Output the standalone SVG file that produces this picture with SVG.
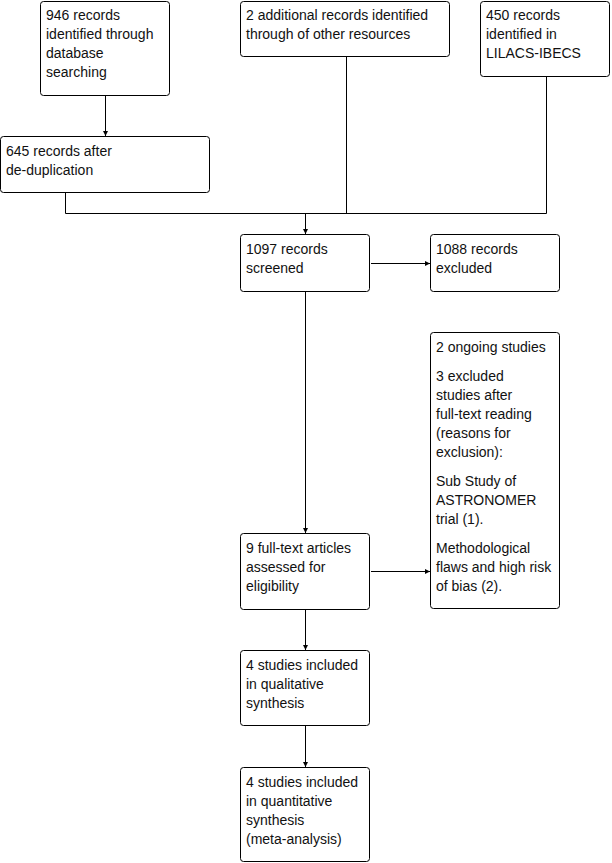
<svg xmlns="http://www.w3.org/2000/svg" width="612" height="863" viewBox="0 0 612 863">
<style>
.box{fill:#fff;stroke:#000;stroke-width:1}
text{font-family:"Liberation Sans",Arial,sans-serif;font-size:14px;fill:#111}
.c{fill:none;stroke:#000;stroke-width:1}
</style>
<defs>
<marker id="ah" markerWidth="6" markerHeight="6" refX="5" refY="3" orient="auto" markerUnits="userSpaceOnUse">
<path d="M0,0.5 L5,3 L0,5.5 Z" fill="#000"/>
</marker>
</defs>
<rect width="612" height="863" fill="#fff"/>
<g id="connectors">
<path class="c" d="M105.5,96 V136" marker-end="url(#ah)"/>
<path class="c" d="M65.5,193 V213.5 H546.5 V76"/>
<path class="c" d="M346.5,57 V213.5"/>
<path class="c" d="M305.5,213.5 V234" marker-end="url(#ah)"/>
<path class="c" d="M371,263.5 H430" marker-end="url(#ah)"/>
<path class="c" d="M305.5,292 V533" marker-end="url(#ah)"/>
<path class="c" d="M371,571.5 H430" marker-end="url(#ah)"/>
<path class="c" d="M305.5,610 V650" marker-end="url(#ah)"/>
<path class="c" d="M305.5,726 V767" marker-end="url(#ah)"/>
</g>
<g id="n1"><rect class="box" x="40.5" y="1.5" width="129" height="94" rx="3"/>
<text x="46" y="20">946 records</text><text x="46" y="39">identified through</text><text x="46" y="58">database</text><text x="46" y="77">searching</text></g>
<g id="n2"><rect class="box" x="240.5" y="1.5" width="209" height="55" rx="3"/>
<text x="246" y="20">2 additional records identified</text><text x="246" y="39">through of other resources</text></g>
<g id="n3"><rect class="box" x="480.5" y="1.5" width="129" height="75" rx="3"/>
<text x="486" y="20">450 records</text><text x="486" y="39">identified in</text><text x="486" y="58">LILACS-IBECS</text></g>
<g id="n4"><rect class="box" x="0.5" y="136.5" width="209" height="56" rx="3"/>
<text x="6" y="156">645 records after</text><text x="6" y="175">de-duplication</text></g>
<g id="n5"><rect class="box" x="240.5" y="234.5" width="129" height="57" rx="3"/>
<text x="246" y="254">1097 records</text><text x="246" y="273">screened</text></g>
<g id="n6"><rect class="box" x="430.5" y="234.5" width="129" height="57" rx="3"/>
<text x="436" y="254">1088 records</text><text x="436" y="273">excluded</text></g>
<g id="n7"><rect class="box" x="430.5" y="332.5" width="129" height="276" rx="3"/>
<text x="436" y="352">2 ongoing studies</text>
<text x="436" y="381">3 excluded</text><text x="436" y="400">studies after</text><text x="436" y="419">full-text reading</text><text x="436" y="438">(reasons for</text><text x="436" y="457">exclusion):</text>
<text x="436" y="486">Sub Study of</text><text x="436" y="505">ASTRONOMER</text><text x="436" y="524">trial (1).</text>
<text x="436" y="553">Methodological</text><text x="436" y="572">flaws and high risk</text><text x="436" y="591">of bias (2).</text></g>
<g id="n8"><rect class="box" x="240.5" y="533.5" width="129" height="76" rx="3"/>
<text x="246" y="553">9 full-text articles</text><text x="246" y="572">assessed for</text><text x="246" y="591">eligibility</text></g>
<g id="n9"><rect class="box" x="240.5" y="650.5" width="129" height="75" rx="3"/>
<text x="246" y="670">4 studies included</text><text x="246" y="689">in qualitative</text><text x="246" y="708">synthesis</text></g>
<g id="n10"><rect class="box" x="240.5" y="767.5" width="129" height="94" rx="3"/>
<text x="246" y="787">4 studies included</text><text x="246" y="806">in quantitative</text><text x="246" y="825">synthesis</text><text x="246" y="844">(meta-analysis)</text></g>
</svg>
